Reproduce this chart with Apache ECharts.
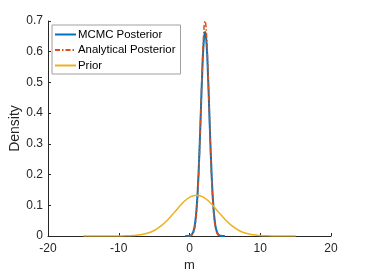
<!DOCTYPE html>
<html><head><meta charset="utf-8">
<script src="https://cdn.jsdelivr.net/npm/echarts@6/dist/echarts.min.js"></script>
<style>html,body{margin:0;padding:0;background:#fff}#c{width:366px;height:274px}</style>
</head><body><div id="c"></div>
<script>
// Data
const mcmcX = [-0.6,-0.4,-0.2,0.0,0.2,0.4,0.6,0.8,1.0,1.2,1.4,1.6,1.8,2.0,2.2,2.4,2.6,2.8,3.0,3.2,3.4,3.6,3.8,4.0,4.2,4.4,4.6,4.8,5.0];
const mcmcY = [0.0000,0.0001,0.0002,0.0008,0.0026,0.0074,0.0190,0.0437,0.090,0.166,0.273,0.403,0.532,0.629,0.665,0.629,0.532,0.403,0.273,0.166,0.090,0.0437,0.0190,0.0074,0.0026,0.0008,0.0002,0.0001,0.0000];
const anaX = [-0.2,0.0,0.2,0.4,0.6,0.8,1.0,1.2,1.4,1.6,1.8,2.0,2.2,2.4,2.6,2.8,3.0,3.2,3.4,3.6,3.8,4.0,4.2,4.4,4.6];
const anaY = [0.0001,0.0004,0.0015,0.0048,0.0137,0.0343,0.0764,0.150,0.261,0.402,0.547,0.658,0.700,0.658,0.547,0.402,0.261,0.150,0.0764,0.0343,0.0137,0.0048,0.0015,0.0004,0.0001];
const priorX = [-15,-14,-13,-12,-11,-10,-9,-8,-7,-6,-5,-4,-3,-2,-1,0,1,2,3,4,5,6,7,8,9,10,11,12,13,14,15];
const priorY = [0,0,0,0,0.00004,0.0002,0.0005,0.0015,0.0038,0.0087,0.0180,0.0332,0.0547,0.0807,0.1065,0.1258,0.133,0.1258,0.1065,0.0807,0.0547,0.0332,0.0180,0.0087,0.0038,0.0015,0.0005,0.0002,0.00004,0,0];
const seriesNames = ['MCMC Posterior','Analytical Posterior','Prior'];
const xLabel = 'm', yLabel = 'Density';

const zip = (xs, ys) => xs.map((x, i) => [x, ys[i]]);
const axisCol = '#262626';
const font = 'Liberation Sans, Arial, sans-serif';
const chart = echarts.init(document.getElementById('c'), null, {renderer: 'canvas'});
chart.setOption({
  animation: false,
  backgroundColor: '#fff',
  grid: {left: 48, right: 35, top: 21, bottom: 38, containLabel: false, outerBoundsMode: 'none'},
  legend: {
    orient: 'vertical', left: 52, top: 25,
    data: seriesNames,
    itemWidth: 21, itemHeight: 10, itemGap: 4.5,
    padding: [4, 5, 3, 2],
    borderColor: '#a0a0a0', borderWidth: 1, backgroundColor: '#fff',
    itemStyle: {opacity: 0},
    textStyle: {fontFamily: font, fontSize: 11.4, color: '#000', padding: [0,0,0,-3]}
  },
  xAxis: {
    type: 'value', min: -20, max: 20, interval: 10,
    name: xLabel, nameLocation: 'middle', nameGap: 23, nameMoveOverlap: false,
    nameTextStyle: {fontFamily: font, fontSize: 13, color: axisCol},
    axisLine: {onZero: false, lineStyle: {color: axisCol, width: 1}},
    axisTick: {inside: true, length: 3, lineStyle: {color: axisCol}},
    axisLabel: {fontFamily: font, fontSize: 12, color: axisCol, margin: 7},
    splitLine: {show: false}
  },
  yAxis: {
    type: 'value', min: 0, max: 0.7, interval: 0.1,
    name: yLabel, nameLocation: 'middle', nameGap: 26, nameMoveOverlap: false,
    nameTextStyle: {fontFamily: font, fontSize: 14, color: axisCol},
    axisLine: {show: true, onZero: false, lineStyle: {color: axisCol, width: 1}},
    axisTick: {show: true, inside: true, length: 3, lineStyle: {color: axisCol}},
    axisLabel: {fontFamily: font, fontSize: 12, color: axisCol, margin: 5,
      formatter: v => v === 0 ? '0' : v.toFixed(1)},
    splitLine: {show: false}
  },
  series: [
    {name: seriesNames[0], type: 'line', data: zip(mcmcX, mcmcY), smooth: true, symbol: 'none',
     lineStyle: {color: '#0072BD', width: 2}, itemStyle: {color: '#0072BD'}},
    {name: seriesNames[1], type: 'line', data: zip(anaX, anaY), smooth: true, symbol: 'none',
     lineStyle: {color: '#D95319', width: 1.5, type: [5, 2, 1.5, 2]}, itemStyle: {color: '#D95319'}},
    {name: seriesNames[2], type: 'line', data: zip(priorX, priorY), smooth: true, symbol: 'none',
     lineStyle: {color: '#EDB120', width: 1.5}, itemStyle: {color: '#EDB120'}}
  ]
});
</script></body></html>
